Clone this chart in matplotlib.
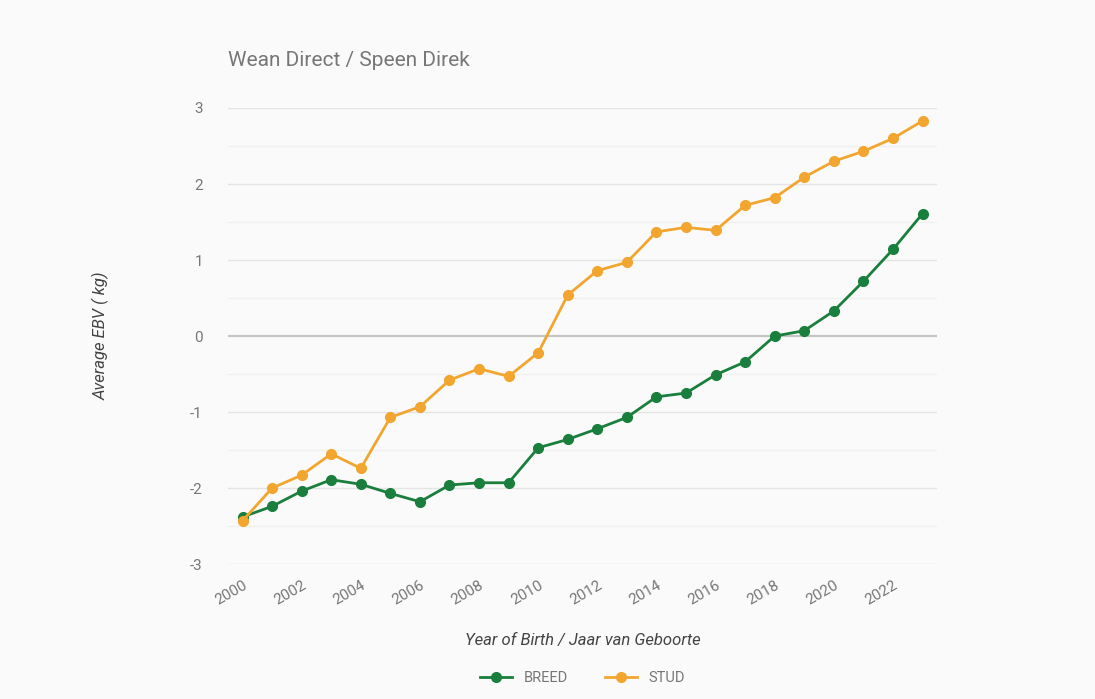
import numpy as np
import matplotlib
matplotlib.use("Agg")
import matplotlib.pyplot as plt

plt.rcParams['font.family'] = ['Roboto', 'DejaVu Sans']

# データ
years = list(range(2000, 2024))
breed = [-2.38, -2.24, -2.04, -1.89, -1.95, -2.07, -2.18, -1.96, -1.93, -1.93,
         -1.47, -1.36, -1.22, -1.07, -0.80, -0.75, -0.51, -0.34, 0.00, 0.07,
         0.33, 0.72, 1.14, 1.61]
stud = [-2.43, -2.00, -1.83, -1.55, -1.74, -1.07, -0.93, -0.58, -0.43, -0.53,
        -0.22, 0.54, 0.86, 0.97, 1.37, 1.43, 1.39, 1.72, 1.82, 2.09,
        2.30, 2.43, 2.60, 2.83]
xticks = list(range(2000, 2024, 2))
yticks = [-3, -2, -1, 0, 1, 2, 3]

green = '#1a7f3c'
orange = '#f2a630'
bg = '#fafafa'
text_gray = '#777777'

fig = plt.figure(figsize=(10.95, 6.99), dpi=100, facecolor=bg)
ax = fig.add_axes([0.208, 0.193, 0.648, 0.6525], facecolor=bg)

# グリッド
for y in np.arange(-3, 3.01, 0.5):
    if y == 0:
        continue
    major = float(y).is_integer()
    ax.axhline(y, color='#e4e4e4' if major else '#f0f0f0', lw=1.0, zorder=0)
ax.axhline(0, color='#c4c4c4', lw=1.6, zorder=1)

ax.plot(years, breed, color=green, lw=2.0, marker='o', ms=7, label='BREED', zorder=3)
ax.plot(years, stud, color=orange, lw=2.0, marker='o', ms=7, label='STUD', zorder=3)

ax.set_xlim(1999.5, 2023.5)
ax.set_ylim(-3, 3)
ax.set_yticks(yticks)
ax.set_yticklabels([str(v) for v in yticks])
ax.set_xticks(xticks)
ax.set_xticklabels([str(v) for v in xticks], rotation=30, ha='right', rotation_mode='anchor')
ax.tick_params(length=0, colors=text_gray, labelsize=11, pad=18)
ax.tick_params(axis='x', pad=10)
for s in ax.spines.values():
    s.set_visible(False)

ax.set_xlabel('Year of Birth / Jaar van Geboorte', style='italic', fontsize=12,
              color='#444444', labelpad=18)
ax.set_ylabel('Average EBV ( kg)', style='italic', fontsize=12, color='#444444', labelpad=58)

fig.text(0.208, 0.913, 'Wean Direct / Speen Direk', fontsize=15, color=text_gray,
         ha='left', va='center')

leg = fig.legend(loc='center', bbox_to_anchor=(0.532, 0.03), ncol=2, frameon=False,
                 fontsize=10.5, handlelength=2.2, columnspacing=2.5)
for t in leg.get_texts():
    t.set_color(text_gray)

fig.savefig('out.png', dpi=100, facecolor=bg)
